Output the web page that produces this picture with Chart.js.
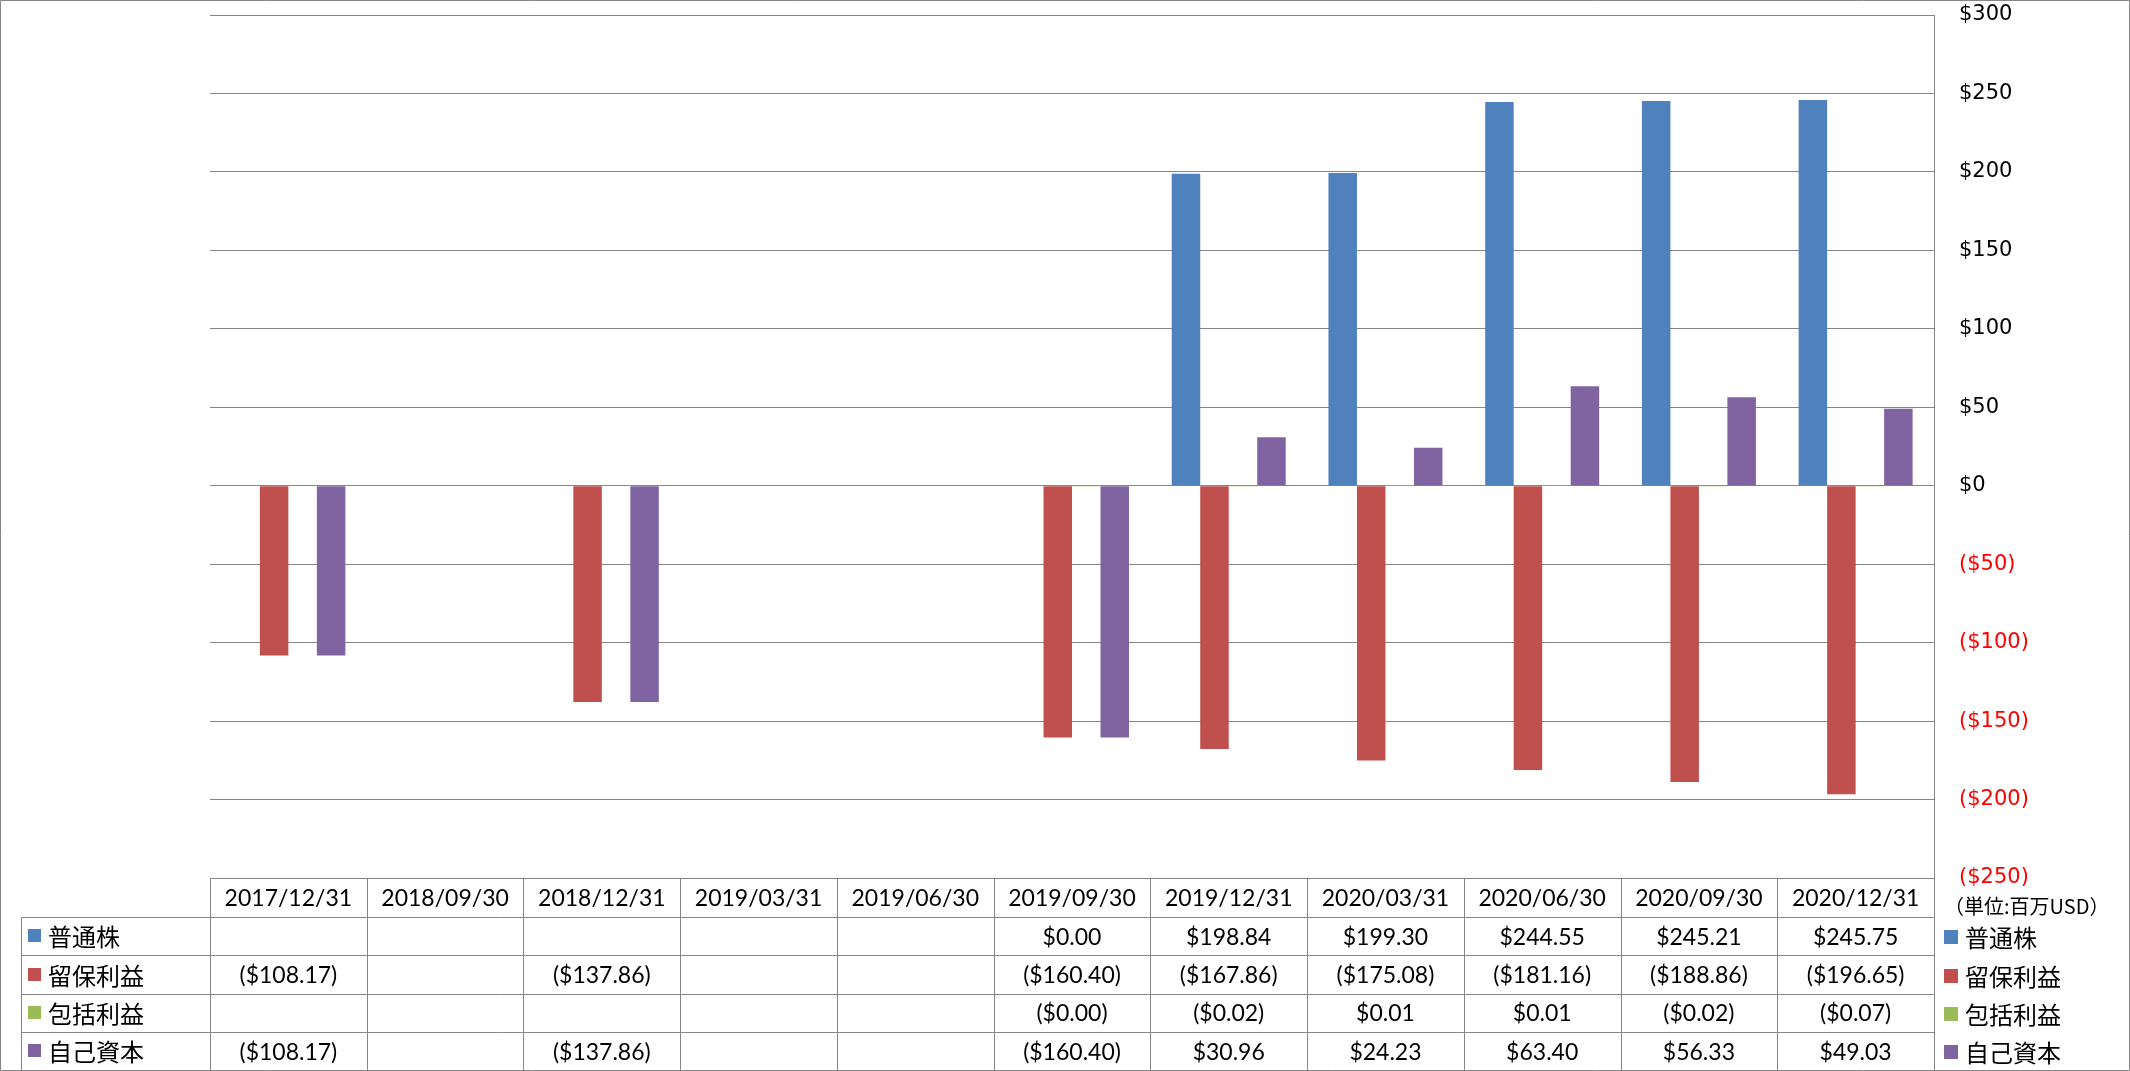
<!DOCTYPE html>
<html>
<head>
<meta charset="utf-8">
<script src="https://cdn.jsdelivr.net/npm/chart.js@4.4.1/dist/chart.umd.min.js"></script>
<style>
  html, body { margin: 0; padding: 0; background: #fff; }
  canvas { display: block; }
</style>
</head>
<body>
<canvas id="equityChart" width="2130" height="1071"></canvas>
<script>
// values in millions of USD, null = blank cell
const periods = ["2017/12/31", "2018/09/30", "2018/12/31", "2019/03/31", "2019/06/30", "2019/09/30",
  "2019/12/31", "2020/03/31", "2020/06/30", "2020/09/30", "2020/12/31"];
const commonStock = [null, null, null, null, null, 0.00, 198.84, 199.30, 244.55, 245.21, 245.75];
const retainedEarnings = [-108.17, null, -137.86, null, null, -160.40, -167.86, -175.08, -181.16, -188.86, -196.65];
const comprehensiveIncome = [null, null, null, null, null, -0.001, -0.02, 0.01, 0.01, -0.02, -0.07];
const totalEquity = [-108.17, null, -137.86, null, null, -160.40, 30.96, 24.23, 63.40, 56.33, 49.03];
const seriesNames = ["普通株", "留保利益", "包括利益", "自己資本"];
const seriesColors = ["#4F81BD", "#C0504D", "#9BBB59", "#8064A2"];
const yTickValues = [300, 250, 200, 150, 100, 50, 0, -50, -100, -150, -200, -250];
const unitLabel = "（単位:百万USD）";

const seriesValues = [commonStock, retainedEarnings, comprehensiveIncome, totalEquity];
const lineColor = "#868686";
const cjkFont = '24px "Noto Sans CJK JP", sans-serif';
const numFont = '23px Lato, "Liberation Sans", sans-serif';

function money(v) {
  if (v === null) return "";
  return v < 0 ? "($" + Math.abs(v).toFixed(2) + ")" : "$" + v.toFixed(2);
}
function tickMoney(v) {
  return v < 0 ? "($" + Math.abs(v) + ")" : "$" + v;
}

const tablePlugin = {
  id: "dataTable",
  afterDraw(chart) {
    const ctx = chart.ctx;
    const area = chart.chartArea;
    const xs = chart.scales.x;
    const colW = (area.right - area.left) / periods.length;
    const top = Math.round(area.bottom) + 0.5;
    const rowH = 38.4;
    const bottom = top + rowH * 5;
    const labelLeft = 21.5;
    const right = Math.round(area.right) + 0.5;

    ctx.save();
    ctx.strokeStyle = lineColor;
    ctx.lineWidth = 1;
    ctx.beginPath();
    // header top
    ctx.moveTo(Math.round(area.left) + 0.5, top);
    ctx.lineTo(right, top);
    for (let r = 1; r <= 5; r++) {
      const y = Math.round(top + rowH * r) + 0.5;
      ctx.moveTo(labelLeft, y);
      ctx.lineTo(right, y);
    }
    ctx.moveTo(labelLeft, Math.round(top + rowH) + 0.5);
    ctx.lineTo(labelLeft, bottom);
    for (let i = 0; i <= periods.length; i++) {
      const x = Math.round(area.left + colW * i) + 0.5;
      ctx.moveTo(x, top);
      ctx.lineTo(x, bottom);
    }
    ctx.moveTo(right, Math.round(area.top) + 0.5);
    ctx.lineTo(right, bottom);
    // outer frame
    ctx.rect(0.5, 0.5, chart.width - 1, chart.height - 1);
    ctx.stroke();

    ctx.textAlign = "center";
    ctx.textBaseline = "middle";
    ctx.fillStyle = "#000";
    ctx.font = numFont;
    periods.forEach((p, i) => {
      ctx.fillText(p, xs.getPixelForValue(i), top + rowH / 2 + 1);
    });
    seriesValues.forEach((vals, s) => {
      const cy = top + rowH * (s + 1.5) + 1;
      vals.forEach((v, i) => {
        ctx.fillText(money(v), xs.getPixelForValue(i), cy);
      });
    });

    // row labels (left) and legend (right)
    ctx.textAlign = "left";
    ctx.font = cjkFont;
    seriesNames.forEach((name, s) => {
      const cy = top + rowH * (s + 1.5);
      ctx.fillStyle = seriesColors[s];
      ctx.fillRect(28, Math.round(cy - 7), 13, 13);
      ctx.fillRect(1944, Math.round(cy - 6), 14, 14);
      ctx.fillStyle = "#000";
      ctx.fillText(name, 48, cy + 1);
      ctx.fillText(name, 1965, cy + 2);
    });
    ctx.font = '20px "Noto Sans CJK JP", sans-serif';
    ctx.fillText(unitLabel, 1944, top + 28);
    ctx.restore();
  }
};

new Chart(document.getElementById("equityChart").getContext("2d"), {
  type: "bar",
  data: {
    labels: periods,
    datasets: seriesNames.map((name, s) => ({
      label: name,
      data: seriesValues[s],
      backgroundColor: seriesColors[s],
      borderWidth: 0,
      categoryPercentage: 4 / 5.5,
      barPercentage: 1.0
    }))
  },
  options: {
    responsive: false,
    animation: false,
    devicePixelRatio: 1,
    layout: { padding: { left: 210, top: 15, bottom: 193, right: 0 } },
    plugins: {
      legend: { display: false },
      tooltip: { enabled: false }
    },
    scales: {
      x: { display: false },
      y: {
        position: "right",
        min: -250,
        max: 300,
        afterBuildTicks: (scale) => {
          scale.ticks = yTickValues.map((v) => ({ value: v }));
        },
        afterFit: (scale) => {
          scale.width = 196;
          scale.paddingTop = 0;
          scale.paddingBottom = 0;
        },
        grid: { color: lineColor, drawTicks: false, lineWidth: 1 },
        border: { display: true, color: lineColor },
        ticks: {
          padding: 25,
          font: { family: '"DejaVu Sans", Verdana, sans-serif', size: 21 },
          color: (c) => (c.tick.value < 0 ? "#FF0000" : "#000000"),
          callback: (v) => tickMoney(v)
        }
      }
    }
  },
  plugins: [tablePlugin]
});
</script>
</body>
</html>
